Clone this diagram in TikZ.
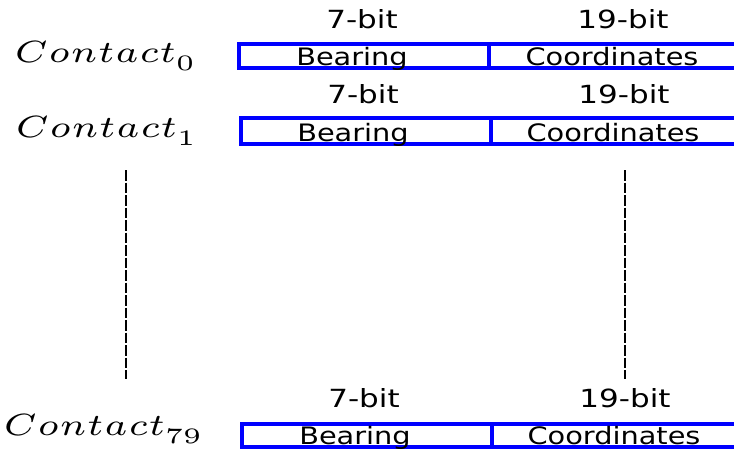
\documentclass[tikz,border=0pt]{standalone}
\usepackage{fontspec}
\usepackage{graphicx}
\setsansfont{DejaVu Sans}
\begin{document}
\begin{tikzpicture}[x=1pt,y=-1pt,
  fieldbox/.style={draw=blue,line width=3.5pt},
  bitlbl/.style={anchor=base,inner sep=0pt,font=\sffamily\fontsize{25}{30}\selectfont},
  fieldlbl/.style={anchor=base,inner sep=0pt,font=\sffamily\fontsize{24}{28}\selectfont},
  contactlbl/.style={anchor=base east,inner sep=0pt,font=\fontsize{7}{8}\selectfont},
  dots/.style={line width=1.3pt,dash pattern=on 10.5pt off 2pt}]
\useasboundingbox (0,0) rectangle (734,451);
\clip (0,0) rectangle (734,451);
\newcommand{\bx}[1]{\scalebox{1.24}[1]{#1}}
\newcommand{\fx}[1]{\scalebox{1.2}[1]{#1}}
\newcommand{\cx}[1]{\scalebox{5.3}[4.4]{$C\mkern0.5mu o\mkern0.5mu n\mkern0.5mu t\mkern0.5mu a\mkern0.5mu c\mkern0.5mu t_{\raisebox{-1pt}{$\scriptstyle #1$}}$}}
% row 0
\node[contactlbl] (c0) at (197,62) {\cx{0}};
\node[bitlbl] (b0a) at (362,28) {\bx{7-bit}};
\node[bitlbl] (b0b) at (623,28) {\bx{19-bit}};
\draw[fieldbox] (239,44) rectangle (489,68);
\draw[fieldbox] (489,44) rectangle (750,68);
\node[fieldlbl] (f0a) at (352,65) {\fx{Bearing}};
\node[fieldlbl] (f0b) at (612,65) {\fx{Coordinates}};
% row 1
\node[contactlbl] (c1) at (198,137) {\cx{1}};
\node[bitlbl] (b1a) at (363,103) {\bx{7-bit}};
\node[bitlbl] (b1b) at (624,103) {\bx{19-bit}};
\draw[fieldbox] (241,118) rectangle (491,144);
\draw[fieldbox] (491,118) rectangle (750,144);
\node[fieldlbl] (f1a) at (353,141) {\fx{Bearing}};
\node[fieldlbl] (f1b) at (613,141) {\fx{Coordinates}};
% row 79
\node[contactlbl] (c79) at (204,435) {\cx{79}};
\node[bitlbl] (b2a) at (364,407) {\bx{7-bit}};
\node[bitlbl] (b2b) at (625,407) {\bx{19-bit}};
\draw[fieldbox] (242,424) rectangle (492,447);
\draw[fieldbox] (492,424) rectangle (750,447);
\node[fieldlbl] (f2a) at (355,444) {\fx{Bearing}};
\node[fieldlbl] (f2b) at (614,444) {\fx{Coordinates}};
% vertical dashed lines
\coordinate (d1t) at (126,170);
\coordinate (d1b) at (126,379);
\coordinate (d2t) at (625,170);
\coordinate (d2b) at (625,379);
\draw[dots] (d1t) -- (d1b);
\draw[dots] (d2t) -- (d2b);
\end{tikzpicture}
\end{document}
